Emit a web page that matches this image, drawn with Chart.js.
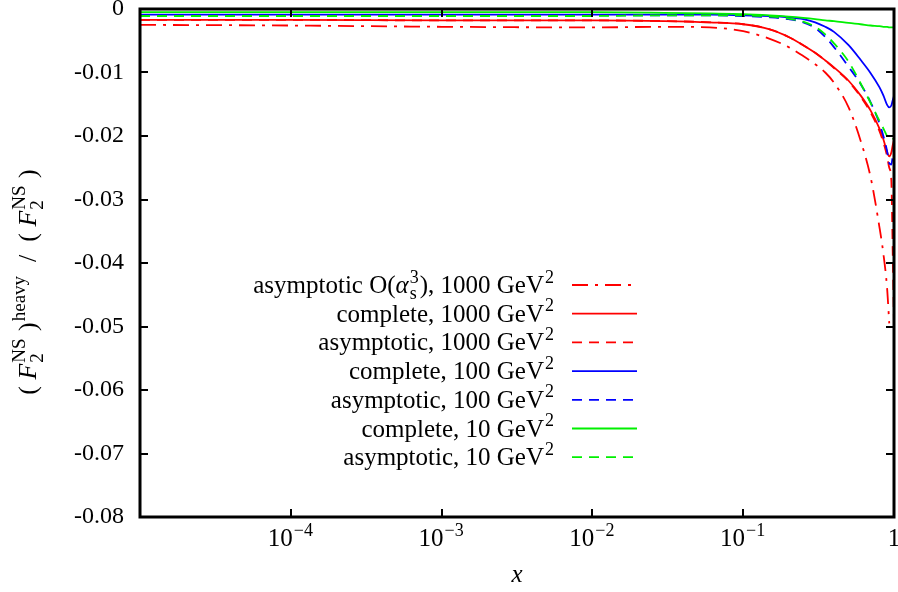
<!DOCTYPE html>
<html><head><meta charset="utf-8">
<script src="https://cdn.jsdelivr.net/npm/chart.js@4/dist/chart.umd.min.js"></script>
<style>html,body{margin:0;padding:0;background:#fff}#wrap{width:898px;height:592px;position:relative}</style>
</head><body><div id="wrap"><canvas id="c" width="898" height="592"></canvas></div>
<script>
// ---- data ----
const xValues = [1e-5, 1e-4, 1e-3, 1e-2, 0.03, 0.06, 0.1, 0.15, 0.2, 0.25, 0.3, 0.35, 0.4, 0.5, 0.6, 0.7, 0.8, 0.85, 0.9, 0.93, 0.96, 0.98, 1.0];
const asymO3_1000 = [-0.0025,-0.0026,-0.0028,-0.0029,-0.0028,-0.0029,-0.0035,-0.0047,-0.0060,-0.0074,-0.0087,-0.0100,-0.0116,-0.0155,-0.0207,-0.0265,-0.0343,-0.0385,-0.0440,-0.0495,null,null,null];
const complete_1000 = [-0.0017,-0.0017,-0.0018,-0.0018,-0.0019,-0.0021,-0.0024,-0.0032,-0.0044,-0.0057,-0.0069,-0.0081,-0.0092,-0.0113,-0.0136,-0.0160,-0.0188,-0.0205,-0.0225,-0.0232,-0.0226,-0.0215,-0.0206];
const asym_1000 = [-0.0017,-0.0017,-0.0018,-0.0018,-0.0019,-0.0021,-0.0024,-0.0032,-0.0044,-0.0057,-0.0069,-0.0081,-0.0093,-0.0114,-0.0138,-0.0163,-0.0192,-0.0210,-0.0232,-0.0250,-0.0270,-0.0380,-0.0500];
const complete_100 = [-0.0009,-0.0009,-0.0009,-0.0009,-0.0009,-0.0009,-0.0010,-0.0011,-0.0013,-0.0016,-0.0021,-0.0028,-0.0036,-0.0057,-0.0080,-0.0101,-0.0123,-0.0136,-0.0151,-0.0155,-0.0152,-0.0144,-0.0137];
const asym_100 = [-0.0010,-0.0010,-0.0010,-0.0010,-0.0010,-0.0010,-0.0011,-0.0013,-0.0016,-0.0021,-0.0030,-0.0044,-0.0060,-0.0091,-0.0118,-0.0147,-0.0180,-0.0200,-0.0224,-0.0243,-0.0245,-0.0232,-0.0220];
const complete_10 = [-0.0005,-0.0005,-0.0005,-0.0005,-0.0006,-0.0007,-0.0008,-0.0010,-0.0012,-0.0014,-0.0016,-0.0018,-0.0019,-0.0022,-0.0024,-0.0026,-0.0027,-0.0028,-0.0028,-0.0029,-0.0029,-0.0029,-0.0029];
const asym_10 = [-0.0011,-0.0011,-0.0011,-0.0011,-0.0010,-0.0010,-0.0010,-0.0012,-0.0015,-0.0020,-0.0028,-0.0040,-0.0054,-0.0083,-0.0117,-0.0148,-0.0176,-0.0188,-0.0200,-0.0204,-0.0206,-0.0205,-0.0204];

const xTickValues = [1e-5, 1e-4, 1e-3, 1e-2, 1e-1, 1];
const xTickLabels = [null, ['10','\u22124'], ['10','\u22123'], ['10','\u22122'], ['10','\u22121'], ['1','']];
const yMin = -0.08, yMax = 0, yStep = 0.01;

// legend labels as rich-text parts
const seriesLabels = [
  [{t:'asymptotic O('},{t:'\u03B1',it:true},{sub:'s',sup:'3'},{t:'), 1000 GeV'},{sup:'2'}],
  [{t:'complete, 1000 GeV'},{sup:'2'}],
  [{t:'asymptotic, 1000 GeV'},{sup:'2'}],
  [{t:'complete, 100 GeV'},{sup:'2'}],
  [{t:'asymptotic, 100 GeV'},{sup:'2'}],
  [{t:'complete, 10 GeV'},{sup:'2'}],
  [{t:'asymptotic, 10 GeV'},{sup:'2'}]
];
const yTitle = [{t:'( '},{t:'F',it:true},{sub:'2',sup:'NS'},{t:' )'},{sup:'heavy'},{t:'  /  ( '},{t:'F',it:true},{sub:'2',sup:'NS'},{t:' )'}];

const seriesValues = [asymO3_1000, complete_1000, asym_1000, complete_100, asym_100, complete_10, asym_10];
const seriesColors = ['#ff0000','#ff0000','#ff0000','#0000ff','#0000ff','#00f000','#00f000'];
const seriesDash = [[16,7,3,7],[],[10,7],[],[10,7],[],[10,7]];

const FONT = '"Liberation Serif", "Times New Roman", serif';

function partFont(sz, it){ return (it?'italic ':'') + sz + 'px ' + FONT; }
function measureParts(ctx, parts, size){
  let w = 0; const small = Math.round(size*0.72);
  for (const p of parts){
    if (p.t !== undefined){ ctx.font = partFont(size, p.it); p._w = ctx.measureText(p.t).width; }
    else { ctx.font = partFont(small,false);
      const a = p.sup ? ctx.measureText(p.sup).width : 0;
      const b = p.sub ? ctx.measureText(p.sub).width : 0;
      p._w = Math.max(a,b) + 2; }
    w += p._w;
  }
  return w;
}
function drawRich(ctx, parts, x, y, align, size){
  const w = measureParts(ctx, parts, size);
  let cx = align === 'right' ? x - w : (align === 'center' ? x - w/2 : x);
  const small = Math.round(size*0.72);
  ctx.textAlign = 'left'; ctx.textBaseline = 'alphabetic';
  for (const p of parts){
    if (p.t !== undefined){ ctx.font = partFont(size, p.it); ctx.fillText(p.t, cx, y); }
    else {
      ctx.font = partFont(small,false);
      if (p.sup) ctx.fillText(p.sup, cx+1, y - size*0.42);
      if (p.sub) ctx.fillText(p.sub, cx+1, y + size*0.25);
    }
    cx += p._w;
  }
}

const decor = {
  id: 'decor',
  afterDatasetsDraw(chart){
    const ctx = chart.ctx, a = chart.chartArea, xs = chart.scales.x, ys = chart.scales.y;
    ctx.save();
    ctx.strokeStyle = '#000';
    // inward ticks
    ctx.lineWidth = 2;
    ctx.beginPath();
    xs.ticks.forEach(t => {
      if (t.value <= xTickValues[0] || t.value >= 1) return;
      const px = Math.round(xs.getPixelForValue(t.value));
      ctx.moveTo(px, a.bottom); ctx.lineTo(px, a.bottom - 8);
      ctx.moveTo(px, a.top); ctx.lineTo(px, a.top + 8);
    });
    ys.ticks.forEach(t => {
      if (t.value <= yMin + 1e-9 || t.value >= yMax - 1e-9) return;
      const py = Math.round(ys.getPixelForValue(t.value));
      ctx.moveTo(a.left, py); ctx.lineTo(a.left + 8, py);
      ctx.moveTo(a.right, py); ctx.lineTo(a.right - 8, py);
    });
    ctx.stroke();
    // frame
    ctx.lineWidth = 3;
    ctx.strokeRect(a.left, a.top, a.right - a.left, a.bottom - a.top);
    // x tick labels
    ctx.fillStyle = '#000';
    xs.ticks.forEach((t, i) => {
      const idx = xTickValues.findIndex(v => Math.abs(Math.log10(v) - Math.log10(t.value)) < 1e-6);
      const lab = idx >= 0 ? xTickLabels[idx] : null;
      if (!lab) return;
      const px = xs.getPixelForValue(t.value);
      const parts = lab[1] ? [{t:lab[0]},{sup:lab[1]}] : [{t:lab[0]}];
      drawRich(ctx, parts, px, 546, 'center', 25);
    });
    // x title
    ctx.font = partFont(25, true); ctx.textAlign = 'center'; ctx.textBaseline = 'alphabetic';
    ctx.fillText('x', (a.left + a.right)/2, 582);
    // y title
    ctx.save();
    ctx.translate(36, 282); ctx.rotate(-Math.PI/2);
    drawRich(ctx, yTitle, 0, 0, 'center', 26);
    ctx.restore();
    // legend
    chart.data.datasets.forEach((ds, i) => {
      const y = 285 + i*28.7;
      drawRich(ctx, seriesLabels[i], 555, y + 8, 'right', 25);
      ctx.save();
      ctx.strokeStyle = ds.borderColor; ctx.lineWidth = ds.borderWidth;
      ctx.setLineDash(ds.borderDash || []);
      ctx.beginPath(); ctx.moveTo(572, y); ctx.lineTo(637, y); ctx.stroke();
      ctx.restore();
    });
    ctx.restore();
  }
};

const datasets = seriesValues.map((vals, i) => ({
  data: xValues.map((x, j) => ({x: x, y: vals[j]})),
  borderColor: seriesColors[i],
  borderWidth: 1.8,
  borderDash: seriesDash[i],
  pointRadius: 0,
  fill: false,
  spanGaps: false,
  cubicInterpolationMode: 'monotone',
  order: seriesValues.length - 1 - i
}));

new Chart(document.getElementById('c'), {
  type: 'line',
  data: { datasets },
  options: {
    responsive: false,
    animation: false,
    events: [],
    layout: { padding: { left: 0, right: 4, top: 9, bottom: 0 } },
    plugins: { legend: { display: false }, tooltip: { enabled: false } },
    scales: {
      x: {
        type: 'logarithmic', min: 1e-5, max: 1,
        afterBuildTicks: s => { s.ticks = xTickValues.map(v => ({value: v})); },
        afterFit: s => { s.height = 75; s.paddingLeft = 0; s.paddingRight = 0; },
        grid: { display: false, drawTicks: false },
        border: { display: false },
        ticks: { display: false }
      },
      y: {
        type: 'linear', min: yMin, max: yMax,
        afterFit: s => { s.width = 140; s.paddingTop = 0; s.paddingBottom = 0; },
        grid: { display: false, drawTicks: false },
        border: { display: false },
        ticks: {
          stepSize: yStep, padding: 16, color: '#000',
          font: { family: FONT, size: 24 },
          callback: v => Math.abs(v) < 1e-9 ? '0' : v.toFixed(2)
        }
      }
    }
  },
  plugins: [decor]
});
</script>
</body></html>
